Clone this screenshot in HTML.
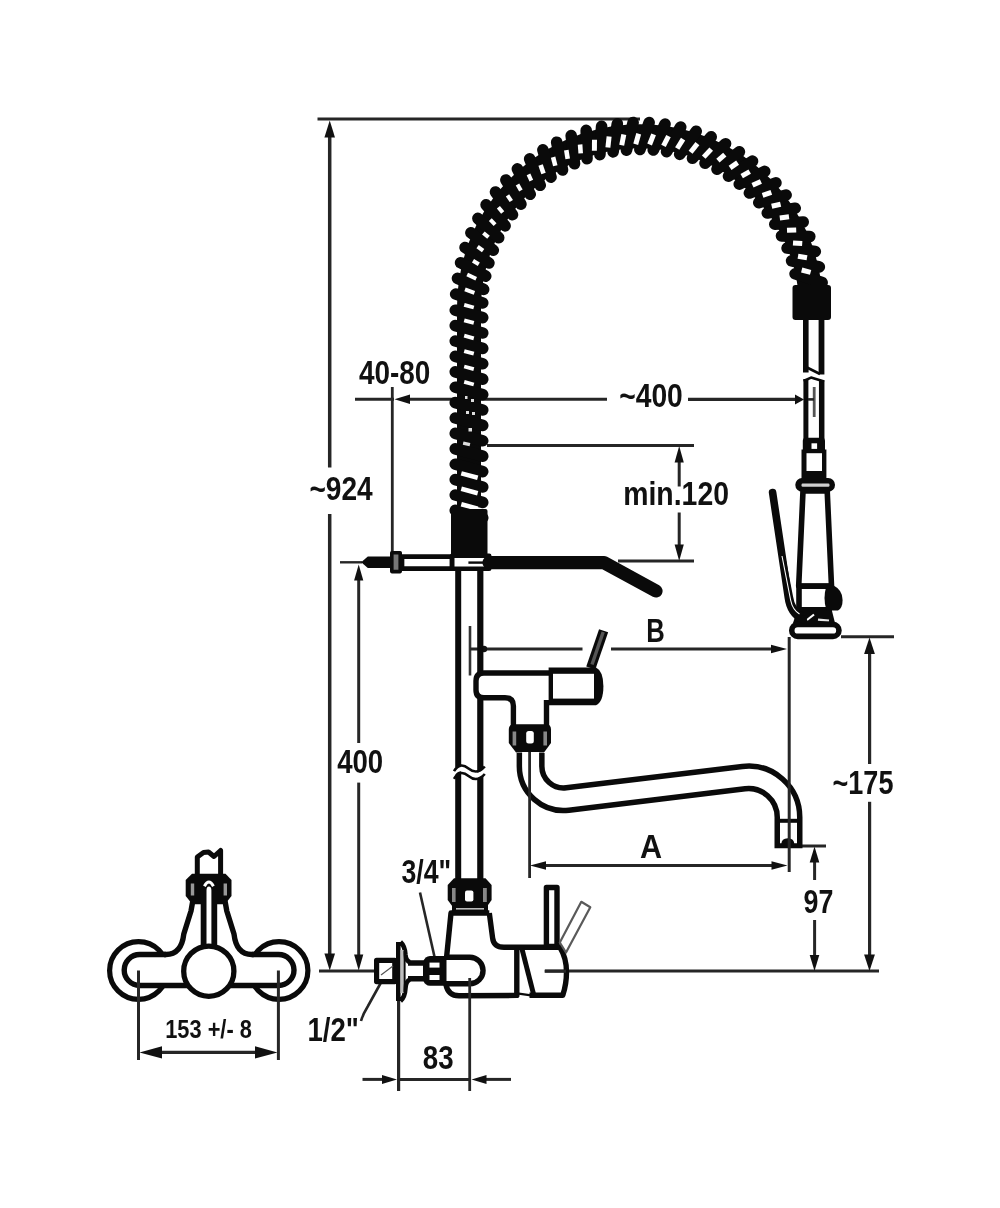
<!DOCTYPE html>
<html><head><meta charset="utf-8"><title>Drawing</title>
<style>html,body{margin:0;padding:0;background:#fff}body{width:1000px;height:1208px;overflow:hidden}svg{display:block;filter:blur(0.55px)}text{font-family:"Liberation Sans",sans-serif;font-weight:bold;fill:#111}</style>
</head><body>
<svg width="1000" height="1208" viewBox="0 0 1000 1208">
<rect width="1000" height="1208" fill="#fff"/>
<line x1="317.5" y1="119.0" x2="640.0" y2="119.0" stroke="#262626" stroke-width="3.00" stroke-linecap="butt"/>
<line x1="329.7" y1="130.0" x2="329.7" y2="467.5" stroke="#262626" stroke-width="3.50" stroke-linecap="butt"/>
<line x1="329.7" y1="514.0" x2="329.7" y2="960.0" stroke="#262626" stroke-width="3.50" stroke-linecap="butt"/>
<polygon points="329.7,120.5 324.4,137.5 335.0,137.5" fill="#111"/>
<polygon points="329.7,970.5 324.4,953.5 335.0,953.5" fill="#111"/>
<line x1="319.0" y1="971.0" x2="376.0" y2="971.0" stroke="#262626" stroke-width="3.00" stroke-linecap="butt"/>
<line x1="545.0" y1="971.0" x2="879.0" y2="971.0" stroke="#262626" stroke-width="3.00" stroke-linecap="butt"/>
<line x1="358.7" y1="575.0" x2="358.7" y2="743.0" stroke="#262626" stroke-width="3.00" stroke-linecap="butt"/>
<line x1="358.7" y1="782.6" x2="358.7" y2="960.0" stroke="#262626" stroke-width="3.00" stroke-linecap="butt"/>
<polygon points="358.7,564.5 354.1,580.5 363.3,580.5" fill="#111"/>
<polygon points="358.7,970.5 354.1,954.5 363.3,954.5" fill="#111"/>
<line x1="340.0" y1="562.3" x2="362.0" y2="562.3" stroke="#262626" stroke-width="2.40" stroke-linecap="butt"/>
<line x1="392.3" y1="387.0" x2="392.3" y2="552.0" stroke="#262626" stroke-width="2.80" stroke-linecap="butt"/>
<line x1="355.0" y1="399.2" x2="394.0" y2="399.2" stroke="#262626" stroke-width="3.00" stroke-linecap="butt"/>
<line x1="405.0" y1="399.2" x2="607.0" y2="399.2" stroke="#262626" stroke-width="3.00" stroke-linecap="butt"/>
<line x1="688.0" y1="399.4" x2="798.0" y2="399.4" stroke="#262626" stroke-width="3.20" stroke-linecap="butt"/>
<polygon points="394.5,399.2 410.0,394.4 410.0,404.0" fill="#111"/>
<polygon points="804.0,399.4 795.0,394.4 795.0,404.4" fill="#111"/>
<line x1="487.0" y1="445.5" x2="694.0" y2="445.5" stroke="#262626" stroke-width="3.00" stroke-linecap="butt"/>
<line x1="618.0" y1="561.0" x2="694.0" y2="561.0" stroke="#262626" stroke-width="2.80" stroke-linecap="butt"/>
<line x1="679.2" y1="455.0" x2="679.2" y2="486.5" stroke="#262626" stroke-width="3.00" stroke-linecap="butt"/>
<line x1="679.2" y1="512.5" x2="679.2" y2="552.0" stroke="#262626" stroke-width="3.00" stroke-linecap="butt"/>
<polygon points="679.2,446.0 674.6,462.5 683.8,462.5" fill="#111"/>
<polygon points="679.2,561.0 674.6,544.5 683.8,544.5" fill="#111"/>
<line x1="470.0" y1="626.0" x2="470.0" y2="675.5" stroke="#333" stroke-width="2.60" stroke-linecap="butt"/>
<line x1="470.0" y1="649.0" x2="582.5" y2="649.0" stroke="#262626" stroke-width="3.00" stroke-linecap="butt"/>
<line x1="611.0" y1="649.0" x2="775.0" y2="649.0" stroke="#262626" stroke-width="3.00" stroke-linecap="butt"/>
<polygon points="787.0,649.0 771.0,644.7 771.0,653.3" fill="#111"/>
<circle cx="484" cy="649" r="3.2" fill="#111"/>
<line x1="841.0" y1="636.8" x2="894.0" y2="636.8" stroke="#262626" stroke-width="3.00" stroke-linecap="butt"/>
<line x1="869.6" y1="650.0" x2="869.6" y2="764.0" stroke="#262626" stroke-width="3.20" stroke-linecap="butt"/>
<line x1="869.6" y1="801.8" x2="869.6" y2="960.0" stroke="#262626" stroke-width="3.20" stroke-linecap="butt"/>
<polygon points="869.5,637.5 864.1,654.0 874.9,654.0" fill="#111"/>
<polygon points="869.5,971.0 864.1,954.5 874.9,954.5" fill="#111"/>
<line x1="540.0" y1="865.5" x2="778.0" y2="865.5" stroke="#262626" stroke-width="3.00" stroke-linecap="butt"/>
<polygon points="530.0,865.5 546.0,861.2 546.0,869.8" fill="#111"/>
<polygon points="787.5,865.5 771.5,861.2 771.5,869.8" fill="#111"/>
<line x1="801.0" y1="846.0" x2="826.0" y2="846.0" stroke="#262626" stroke-width="3.00" stroke-linecap="butt"/>
<line x1="814.6" y1="856.0" x2="814.6" y2="880.0" stroke="#262626" stroke-width="3.00" stroke-linecap="butt"/>
<line x1="814.6" y1="920.0" x2="814.6" y2="960.0" stroke="#262626" stroke-width="3.00" stroke-linecap="butt"/>
<polygon points="814.5,846.5 809.7,862.5 819.3,862.5" fill="#111"/>
<polygon points="814.5,971.0 809.7,955.0 819.3,955.0" fill="#111"/>
<line x1="398.6" y1="1001.0" x2="398.6" y2="1091.0" stroke="#262626" stroke-width="3.20" stroke-linecap="butt"/>
<line x1="362.5" y1="1079.4" x2="385.0" y2="1079.4" stroke="#262626" stroke-width="3.00" stroke-linecap="butt"/>
<line x1="399.0" y1="1079.4" x2="470.0" y2="1079.4" stroke="#262626" stroke-width="3.00" stroke-linecap="butt"/>
<line x1="484.0" y1="1079.4" x2="511.0" y2="1079.4" stroke="#262626" stroke-width="3.00" stroke-linecap="butt"/>
<polygon points="397.0,1079.4 382.0,1074.9 382.0,1083.9" fill="#111"/>
<polygon points="471.5,1079.4 486.5,1074.9 486.5,1083.9" fill="#111"/>
<line x1="155.0" y1="1052.4" x2="262.0" y2="1052.4" stroke="#262626" stroke-width="3.20" stroke-linecap="butt"/>
<polygon points="139.5,1052.4 162.0,1046.2 162.0,1058.6" fill="#111"/>
<polygon points="277.5,1052.4 255.0,1046.2 255.0,1058.6" fill="#111"/>
<line x1="420.0" y1="892.5" x2="435.0" y2="959.0" stroke="#262626" stroke-width="2.60" stroke-linecap="butt"/>
<path d="M381,982.5 L368,1006 Q363,1014 361,1021" fill="none" stroke="#262626" stroke-width="2.6"/>
<text x="359.0" y="383.5" font-size="33.5" textLength="71.4" lengthAdjust="spacingAndGlyphs">40-80</text>
<text x="619.2" y="407.3" font-size="33.5" textLength="63.6" lengthAdjust="spacingAndGlyphs">~400</text>
<text x="309.4" y="500.3" font-size="33.5" textLength="63.2" lengthAdjust="spacingAndGlyphs">~924</text>
<text x="623.2" y="505.3" font-size="33.5" textLength="105.8" lengthAdjust="spacingAndGlyphs">min.120</text>
<text x="646.2" y="642.2" font-size="33.5" textLength="18.5" lengthAdjust="spacingAndGlyphs">B</text>
<text x="337.2" y="772.7" font-size="33.5" textLength="46.0" lengthAdjust="spacingAndGlyphs">400</text>
<text x="832.6" y="794.4" font-size="33.5" textLength="60.8" lengthAdjust="spacingAndGlyphs">~175</text>
<text x="640.0" y="857.5" font-size="33.5" textLength="22.1" lengthAdjust="spacingAndGlyphs">A</text>
<text x="803.6" y="912.8" font-size="33.5" textLength="29.8" lengthAdjust="spacingAndGlyphs">97</text>
<text x="401.4" y="883.0" font-size="33.5" textLength="49.7" lengthAdjust="spacingAndGlyphs">3/4&quot;</text>
<text x="307.4" y="1040.7" font-size="33.5" textLength="51.4" lengthAdjust="spacingAndGlyphs">1/2&quot;</text>
<text x="422.8" y="1068.5" font-size="33.5" textLength="30.8" lengthAdjust="spacingAndGlyphs">83</text>
<text x="165.2" y="1038.0" font-size="26.0" textLength="86.7" lengthAdjust="spacingAndGlyphs">153 +/- 8</text>
<g id="main" fill="none" stroke="#0a0a0a" stroke-width="5.4" stroke-linejoin="round">
<!-- riser pipe -->
<line x1="458.2" y1="570" x2="458.2" y2="882" stroke-width="6"/>
<line x1="480.3" y1="570" x2="480.3" y2="882" stroke-width="6.2"/>
<path d="M452,774.5 C457,767 463,767 468.5,772 C474,777 480,777 486,769.5" stroke="#fff" stroke-width="5.4"/>
<path d="M454,771.2 C458,764.5 463,764 468.5,768.5 C474,773 479,773 484.8,766.5" stroke-width="2.6"/>
<path d="M454,778.8 C458,772 463,771.5 468.5,776 C474,780.5 479,780.5 484.8,774" stroke-width="2.6"/>

<!-- wall rod -->
<polygon points="361.2,562.3 367.8,556.6 391,556.6 391,568 367.8,568" fill="#0a0a0a" stroke="none"/>
<rect x="402" y="556.6" width="50" height="12" fill="#fff" stroke-width="4.7"/>
<rect x="391.8" y="552.8" width="8.4" height="18.8" fill="#777" stroke-width="3.6"/>
<!-- clamp -->
<rect x="452.2" y="555.8" width="37" height="13" fill="#fff" stroke-width="4.6"/>
<path d="M468.4,562.6 L487.6,562.6" stroke-width="2.4"/>
<!-- arm -->
<path d="M489,562.6 L604,562.6 L656,591" stroke-width="13.2" stroke-linecap="round" stroke-linejoin="round"/>

<!-- upper valve -->
<path d="M590.8,668 L603.6,630.8" stroke="#0a0a0a" stroke-width="9.6" stroke-linecap="butt"/>
<path d="M592,664.5 L603.2,632" stroke="#555" stroke-width="3.4" stroke-linecap="butt"/>
<path d="M552,673 L484,673 Q476,673 476,681 L476,690 Q476,697.8 484,697.8 L505,697.8 Q513.4,697.8 513.4,706 L513.4,728 L546.5,728 L546.5,700 L552,697 Z" fill="#fff" stroke="none"/>
<path d="M552,673 L484,673 Q476,673 476,681 L476,690 Q476,697.8 484,697.8 L505,697.8 Q513.4,697.8 513.4,706 L513.4,728 M546.5,728 L546.5,700" fill="none" stroke-width="5.4"/>
<path d="M548.6,667.4 L596,667.4 Q603.4,671 603.4,686.3 Q603.4,702 596,705.3 L548.6,705.3 Z" fill="#0a0a0a" stroke="none"/>
<rect x="553" y="673.8" width="41" height="24.8" fill="#fff" stroke="none"/>
<!-- nut -->
<path d="M514,724.3 L546,724.3 Q551,724.3 551,729.5 L551,743 L544,752.5 L516,752.5 L508.8,743 L508.8,729.5 Q508.8,724.3 514,724.3 Z" fill="#0a0a0a" stroke="none"/>
<rect x="526.2" y="731" width="7.6" height="12.4" rx="2.5" fill="#fff" stroke="none"/>
<rect x="512.6" y="731.5" width="3.6" height="14" fill="#888" stroke="none"/>
<rect x="543.4" y="731.5" width="3.6" height="14" fill="#888" stroke="none"/>

<!-- spout -->
<path d="M530.6,753 L530.6,766.2 A33,33 0 0 0 567.6,799 L743.7,777.6 A40,40 0 0 1 788.5,817.3 L788.5,848.2" stroke-width="28" stroke-linejoin="round"/>
<path d="M530.6,752 L530.6,766.2 A33,33 0 0 0 567.6,799 L743.7,777.6 A40,40 0 0 1 788.5,817.3 L788.5,843.3" stroke="#fff" stroke-width="17" stroke-linejoin="round"/>
<line x1="777" y1="820.8" x2="800" y2="820.8" stroke-width="4"/>
<path d="M781.2,844.5 Q781.5,838.2 787.8,838.2 Q794.2,838.2 794.4,844.5 Z" fill="#0a0a0a" stroke="none"/>

<!-- sprayer tube -->
<line x1="805.8" y1="318" x2="805.8" y2="372.5" stroke-width="5.6"/>
<line x1="821.5" y1="318" x2="821.5" y2="374.5" stroke-width="5.8"/>
<path d="M807,367.5 L820,374" stroke-width="2.6"/>
<line x1="805.9" y1="379" x2="805.9" y2="439" stroke-width="5"/>
<line x1="821.7" y1="380.5" x2="821.7" y2="439" stroke-width="5.5"/>
<path d="M803.6,381 L811,377.6 L824.2,381.6" stroke-width="2.6"/>
<line x1="814.2" y1="387" x2="814.2" y2="417" stroke="#555" stroke-width="2.8"/>
<line x1="808" y1="399.4" x2="814" y2="399.4" stroke="#262626" stroke-width="2.6"/>
<!-- connector pieces -->
<rect x="802.8" y="437.7" width="22.2" height="15" rx="3" fill="#0a0a0a" stroke="none"/>
<rect x="811.5" y="443.3" width="5.6" height="5.6" fill="#fff" stroke="none"/>
<rect x="801.5" y="449.5" width="24.9" height="30" fill="#0a0a0a" stroke="none"/>
<rect x="806.5" y="453.2" width="15.5" height="17.8" fill="#fff" stroke="none"/>
<rect x="795.3" y="478" width="39.7" height="13.7" rx="6.8" fill="#0a0a0a" stroke="none"/>
<rect x="801.5" y="483.6" width="28" height="3.2" rx="1.2" fill="#cfcfcf" stroke="none"/>
<!-- taper body -->
<polygon points="803,491 827.2,491 831.5,586 798.7,586" fill="#fff" stroke-width="5.6"/>
<path d="M799,585 L799,610 M797,586.3 L831,586.3 M797,609.7 L832,609.7" stroke-width="5.6"/>
<path d="M826.5,585.7 L834,585.7 Q842.6,590 842.6,600 Q842.6,608 838,610.6 L826.5,610.6 Q822.5,598 826.5,585.7 Z" fill="#0a0a0a" stroke="none"/>
<polygon points="797,611 832,611 835,623 793,623" fill="#0a0a0a" stroke="none"/>
<path d="M807,620 L814,614.5" stroke="#fff" stroke-width="2.2"/>
<path d="M818,619.6 L829,620.6" stroke="#e8e8e8" stroke-width="2.4"/>
<rect x="791.75" y="624.4" width="47.2" height="12" rx="6" fill="#fff" stroke-width="5.6"/>
<!-- trigger -->
<path d="M772.6,492.5 L788.2,597 Q790.4,614 803,619.5" stroke-width="7.6" stroke-linecap="round"/>
<path d="M780.5,545 L790.6,597 Q792.6,610 802,615" stroke-width="5"/>
<path d="M782,556 L790.6,600 Q792.6,610 799.5,614" stroke="#fff" stroke-width="1.1"/>

<!-- lower valve -->
<path d="M454,878.2 L485.5,878.2 L491.6,885 L491.6,900 L487,906.5 L452.5,906.5 L447.7,900 L447.7,885 Z" fill="#0a0a0a" stroke="none"/>
<rect x="452" y="905" width="36" height="8" fill="#0a0a0a" stroke="none"/>
<line x1="456" y1="908.8" x2="484" y2="908.8" stroke="#bbb" stroke-width="1.6"/>
<rect x="465" y="890.6" width="8.4" height="10.8" rx="2" fill="#fff" stroke="none"/>
<rect x="452" y="888" width="3.6" height="14" fill="#888" stroke="none"/>
<rect x="483" y="888" width="3.8" height="14" fill="#888" stroke="none"/>
<path d="M489.3,913 L451,913 L446.6,957 M489.3,913 L492.6,938 Q493.6,947.3 504,947.3 L560,947.3 Q566.5,958 566.5,972 Q566.5,984 562.8,995.2 L529.5,995.2 M445.8,984 Q448,995.8 459,995.8 L516.8,995.4 L516.8,947.5" stroke-width="5.4"/>
<path d="M446,957.3 L469.8,957.3 A13.25,13.25 0 0 1 469.8,983.8 L446,983.8" stroke-width="5.4"/>
<line x1="522" y1="949" x2="533.5" y2="994" stroke-width="5"/>
<line x1="517" y1="993.4" x2="531" y2="995.4" stroke-width="2.4"/>
<line x1="544.6" y1="971.2" x2="566" y2="971.2" stroke="#262626" stroke-width="3"/>
<rect x="546.4" y="887.5" width="10.6" height="59" fill="#fff" stroke-width="5.4"/>
<polygon points="559.8,942.5 581.3,901.8 590.3,907.3 566,952.5" fill="#fff" stroke="#5a5a5a" stroke-width="2.2"/>
<!-- 3/4 nut, neck, flange, inlet -->
<path d="M408,963 L424,963 M408,978.8 L424,978.8" stroke-width="5.6"/>
<path d="M430,956 L446.5,956 L446.5,985.8 L430,985.8 Q425,985.8 423,980 L423,962 Q425,956 430,956 Z" fill="#0a0a0a" stroke="none"/>
<rect x="429.5" y="962.6" width="10" height="5" fill="#fff" stroke="none"/>
<rect x="429.5" y="975" width="10" height="5" fill="#fff" stroke="none"/>
<rect x="376.6" y="960.3" width="18.2" height="21.3" fill="#fff" stroke-width="5.2"/>
<line x1="381" y1="975" x2="393" y2="966" stroke="#555" stroke-width="1.2"/>
<path d="M398.3,942 L398.3,1001 M400.5,942 Q405,946 405.5,955 Q406,961 410,962.2 M400.5,1001 Q405,997 405.5,988 Q406,981 410,979.6" stroke-width="4.6"/>
<rect x="400.4" y="950" width="3.2" height="43" fill="#bdbdbd" stroke="none"/>
<path d="M404.6,951 L404.6,992" stroke-width="2"/>

<!-- left view -->
<circle cx="138.5" cy="970.5" r="28.9" fill="#fff" stroke-width="5.2"/>
<circle cx="279" cy="970.5" r="28.9" fill="#fff" stroke-width="5.2"/>
<path d="M251.8,954.5 L278.5,954.5 A15.5,15.5 0 0 1 278.5,985.5 L139.7,985.5 A15.5,15.5 0 0 1 139.7,954.5 L166,954.5" fill="#fff" stroke-width="5.4"/>
<path d="M164,954.5 L166,954.5 Q181.5,954.5 183.8,934 L191,911 L192.7,901.5 L225.1,901.5 L226.8,911 L234,934 Q236.3,954.5 251.8,954.5 L253.8,954.5" fill="#fff" stroke-width="5.4"/>
<path d="M197.3,875 L197.3,857 L203.5,852.5 L208.5,852 L214,856.5 L220.6,850.5 L220.6,875" fill="#fff" stroke-width="5" stroke-linejoin="round"/>
<path d="M192,873.7 L225.5,873.7 L231.5,880 L231.5,896 L226.5,902.2 L190.7,902.2 L185.7,896 L185.7,880 Z" fill="#0a0a0a" stroke="none"/>
<rect x="190.8" y="883.5" width="3.4" height="12" fill="#999" stroke="none"/>
<rect x="223.6" y="883.5" width="3.4" height="12" fill="#999" stroke="none"/>
<path d="M203.6,948 L203.6,890.5 Q203.6,883.5 208.9,883.5 Q214.3,883.5 214.3,890.5 L214.3,948" fill="#fff" stroke-width="5.8"/>
<path d="M204.4,886.2 Q208.9,877.6 213.4,886.2" fill="none" stroke="#fff" stroke-width="3"/>
<circle cx="208.8" cy="971.2" r="25.1" fill="#fff" stroke-width="5.3"/>
</g>

<path d="M469.0,507.0 L469.0,307.0 A171.0,171.0 0 0 1 809.7,286.2" fill="none" stroke="#0a0a0a" stroke-width="24.0"/>
<path d="M455.3,510.4 L482.7,517.8 M455.3,495.0 L482.7,502.4 M455.3,479.6 L482.7,487.0 M455.3,464.2 L482.7,471.6 M455.3,448.8 L482.7,456.2 M455.3,433.4 L482.7,440.8 M455.3,418.0 L482.7,425.4 M455.3,402.6 L482.7,410.0 M455.3,387.2 L482.7,394.6 M455.3,371.8 L482.7,379.2 M455.3,356.4 L482.7,363.8 M455.3,341.0 L482.7,348.4 M455.3,325.6 L482.7,333.0 M455.3,310.2 L482.7,317.6 M455.7,294.1 L482.7,302.9 M457.5,278.3 L483.6,289.4 M460.6,262.7 L485.7,276.1 M465.1,247.5 L488.9,263.0 M470.9,232.7 L493.3,250.2 M477.9,218.4 L498.7,237.8 M486.1,204.8 L505.1,225.9 M495.5,192.0 L512.5,214.7 M505.9,180.0 L520.9,204.1 M517.4,168.9 L530.2,194.3 M529.7,158.9 L540.2,185.3 M542.9,149.9 L551.0,177.1 M556.7,142.2 L562.5,170.0 M571.2,135.6 L574.5,163.8 M586.2,130.4 L587.0,158.7 M601.6,126.4 L599.9,154.7 M617.3,123.8 L613.1,151.9 M633.1,122.5 L626.5,150.1 M649.1,122.6 L639.9,149.5 M665.0,124.1 L653.3,150.0 M680.7,127.0 L666.6,151.7 M696.2,131.3 L679.7,154.4 M711.2,136.9 L692.5,158.3 M725.6,143.7 L705.0,163.2 M739.4,151.8 L717.0,169.2 M752.5,161.1 L728.5,176.2 M764.7,171.4 L739.3,184.1 M775.9,182.8 L749.4,193.0 M786.1,195.0 L758.8,202.6 M795.2,208.2 L767.3,213.0 M803.2,222.0 L774.8,224.2 M809.8,236.5 L781.5,235.9 M815.3,251.5 L787.1,248.1 M819.3,266.9 L791.6,260.8 M822.1,282.6 L795.1,273.8" fill="none" stroke="#0a0a0a" stroke-width="11.6" stroke-linecap="round"/>
<g fill="none" stroke="#fff" stroke-linecap="butt"><path d="M461.3,504.2 L477.7,508.6" stroke-width="4.6"/><path d="M461.3,488.8 L477.7,493.2" stroke-width="4.6"/><path d="M461.3,473.4 L477.7,477.8" stroke-width="4.6"/><path d="M464.2,381.9 L473.8,384.5" stroke-width="3.8"/><path d="M464.2,366.5 L473.8,369.1" stroke-width="3.8"/><path d="M464.2,351.1 L473.8,353.7" stroke-width="3.8"/><path d="M464.2,335.7 L473.8,338.3" stroke-width="3.8"/><path d="M464.2,320.3 L473.8,322.9" stroke-width="3.8"/><path d="M464.2,304.9 L473.8,307.5" stroke-width="3.8"/><path d="M465.0,289.4 L474.4,292.9" stroke-width="3.8"/><path d="M467.2,274.5 L476.2,278.8" stroke-width="3.8"/><path d="M473.0,260.8 L478.8,264.3" stroke-width="4.0"/><path d="M477.6,246.6 L483.1,250.6" stroke-width="4.0"/><path d="M483.4,232.9 L488.5,237.3" stroke-width="4.0"/><path d="M490.3,219.7 L495.1,224.6" stroke-width="4.0"/><path d="M498.4,207.2 L502.7,212.5" stroke-width="4.0"/><path d="M507.5,195.4 L511.3,201.0" stroke-width="4.0"/><path d="M517.5,184.4 L520.9,190.4" stroke-width="4.0"/><path d="M528.5,174.4 L531.3,180.6" stroke-width="4.0"/><path d="M540.6,165.1 L543.5,173.5" stroke-width="4.6"/><path d="M553.1,157.1 L555.3,165.7" stroke-width="4.6"/><path d="M566.3,150.2 L567.7,158.9" stroke-width="4.6"/><path d="M580.1,144.5 L580.7,153.3" stroke-width="4.6"/><path d="M594.5,139.8 L594.4,150.8" stroke-width="5.0"/><path d="M609.1,136.5 L607.9,147.5" stroke-width="5.0"/><path d="M623.8,134.5 L621.7,145.3" stroke-width="5.0"/><path d="M638.7,133.7 L635.7,144.3" stroke-width="5.0"/><path d="M653.6,134.3 L649.6,144.5" stroke-width="5.0"/><path d="M668.5,136.1 L663.5,145.9" stroke-width="5.0"/><path d="M683.1,139.2 L677.2,148.5" stroke-width="5.0"/><path d="M697.4,143.6 L690.6,152.2" stroke-width="5.0"/><path d="M711.2,149.1 L703.7,157.1" stroke-width="5.0"/><path d="M724.8,154.7 L717.9,160.7" stroke-width="5.0"/><path d="M737.6,162.6 L730.1,167.9" stroke-width="5.0"/><path d="M749.7,171.6 L741.7,176.1" stroke-width="5.0"/><path d="M760.9,181.5 L752.5,185.3" stroke-width="5.0"/><path d="M771.3,192.4 L762.6,195.4" stroke-width="5.0"/><path d="M780.6,204.2 L771.7,206.3" stroke-width="5.0"/><path d="M789.0,216.7 L779.8,217.9" stroke-width="5.0"/><path d="M796.2,229.9 L787.0,230.2" stroke-width="5.0"/><path d="M802.2,243.6 L793.0,243.0" stroke-width="5.0"/><path d="M807.0,257.8 L798.0,256.3" stroke-width="5.0"/><path d="M810.6,272.4 L801.7,270.0" stroke-width="5.0"/></g>
<g fill="#ddd"><rect x="466" y="411" width="3" height="3"/><rect x="472" y="412" width="3" height="3"/><rect x="468.5" y="428" width="3.5" height="3.5"/><rect x="465" y="396" width="2.5" height="3"/><rect x="471" y="399" width="3" height="3"/><rect x="463" y="442" width="7" height="3.5" transform="rotate(12 466 444)"/></g>
<g id="over" fill="#0a0a0a" stroke="none">
<rect x="451" y="509" width="36.5" height="46.5" rx="2"/>
<rect x="792.5" y="285" width="38.5" height="35" rx="3"/>
</g>

<line x1="789.2" y1="637.0" x2="789.2" y2="872.0" stroke="#262626" stroke-width="3.00" stroke-linecap="butt"/>
<line x1="529.6" y1="752.0" x2="529.6" y2="878.0" stroke="#262626" stroke-width="2.80" stroke-linecap="butt"/>
<line x1="469.7" y1="978.0" x2="469.7" y2="1091.0" stroke="#262626" stroke-width="2.80" stroke-linecap="butt"/>
<line x1="138.5" y1="970.5" x2="138.5" y2="1060.0" stroke="#262626" stroke-width="3.00" stroke-linecap="butt"/>
<line x1="278.4" y1="970.5" x2="278.4" y2="1060.0" stroke="#262626" stroke-width="3.00" stroke-linecap="butt"/>
</svg></body></html>
